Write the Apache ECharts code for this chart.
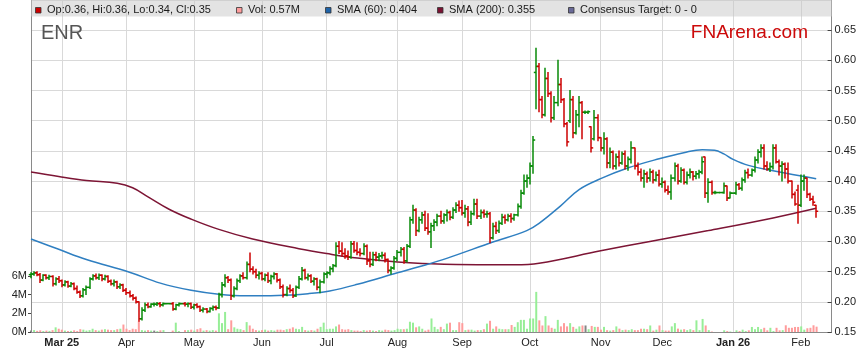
<!DOCTYPE html>
<html>
<head>
<meta charset="utf-8">
<script src="https://cdn.jsdelivr.net/npm/echarts@6.0.0/dist/echarts.min.js"></script>
<style>
html,body{margin:0;padding:0;background:#fff;}
#chart{width:859px;height:363px;}
</style>
</head>
<body>
<div id="chart"></div>
<script>
// ---------- DATA ----------
const ticker = 'ENR';
const brand = 'FNArena.com';

// trading days (weekdays) per month
const tradingMonths = [
  ['2025-02', [17,18,19,20,21,24,25,26,27,28]],
  ['2025-03', [3,4,5,6,7,10,11,12,13,14,17,18,19,20,21,24,25,26,27,28,31]],
  ['2025-04', [1,2,3,4,7,8,9,10,11,14,15,16,17,18,21,22,23,24,25,28,29,30]],
  ['2025-05', [1,2,5,6,7,8,9,12,13,14,15,16,19,20,21,22,23,26,27,28,29,30]],
  ['2025-06', [2,3,4,5,6,9,10,11,12,13,16,17,18,19,20,23,24,25,26,27,30]],
  ['2025-07', [1,2,3,4,7,8,9,10,11,14,15,16,17,18,21,22,23,24,25,28,29,30,31]],
  ['2025-08', [1,4,5,6,7,8,11,12,13,14,15,18,19,20,21,22,25,26,27,28,29]],
  ['2025-09', [1,2,3,4,5,8,9,10,11,12,15,16,17,18,19,22,23,24,25,26,29,30]],
  ['2025-10', [1,2,3,6,7,8,9,10,13,14,15,16,17,20,21,22,23,24,27,28,29,30,31]],
  ['2025-11', [3,4,5,6,7,10,11,12,13,14,17,18,19,20,21,24,25,26,27,28]],
  ['2025-12', [1,2,3,4,5,8,9,10,11,12,15,16,17,18,19,22,23,24,25,26,29,30,31]],
  ['2026-01', [1,2,5,6,7,8,9,12,13,14,15,16,19,20,21,22,23,26,27,28,29,30]],
  ['2026-02', [2,3,4,5,6,9]]
];
const emptySlotsAfter = 5;

// month tick labels
const tickMonths = ['2025-03','2025-04','2025-05','2025-06','2025-07','2025-08','2025-09','2025-10','2025-11','2025-12','2026-01','2026-02'];
const tickLabels = ['Mar 25','Apr','May','Jun','Jul','Aug','Sep','Oct','Nov','Dec','Jan 26','Feb'];

// axis ranges
const priceMin = 0.15, priceMax = 0.70, priceStep = 0.05;
const volMin = 0, volMax = 6, volStep = 2;

const open = [
.245,.246,.248,.245,.236,.244,.240,.242,.230,.238,
.235,.228,.233,.226,.230,.222,.216,.210,.220,.224,
.238,.243,.240,.244,.238,.242,.234,.230,.233,.225,
.228,.219,.215,.210,.206,.200,.172,.186,.195,.192,
.196,.196,.197,.195,.197,.197,.197,.188,.195,.197,
.197,.196,.197,.191,.195,.192,.186,.188,.184,.189,
.191,.190,.212,.228,.240,.236,.210,.222,.235,.243,
.240,.262,.254,.250,.244,.247,.238,.244,.235,.242,
.246,.236,.225,.212,.222,.219,.210,.224,.238,.252,
.240,.243,.234,.238,.224,.233,.246,.248,.255,.260,
.292,.284,.280,.276,.274,.296,.285,.282,.280,.292,
.268,.262,.278,.274,.276,.277,.270,.252,.256,.272,
.282,.287,.268,.292,.336,.352,.318,.336,.344,.322,
.316,.326,.332,.342,.334,.344,.348,.340,.352,.360,
.356,.347,.354,.332,.346,.362,.342,.348,.345,.346,
.306,.325,.318,.330,.340,.336,.342,.338,.344,.358,
.380,.400,.405,.425,.580,.590,.535,.510,.570,.545,
.505,.530,.560,.535,.495,.500,.535,.480,.510,.530,
.514,.514,.490,.470,.505,.472,.455,.470,.430,.448,
.425,.440,.430,.445,.425,.436,.455,.425,.415,.405,
.412,.405,.415,.402,.410,.395,.398,.385,.382,.405,
.425,.400,.418,.398,.410,.415,.408,.412,.415,.440,
.380,.398,.381,.381,.381,.381,.392,.372,.380,.380,
.394,.388,.402,.414,.410,.418,.435,.448,.455,.425,
.420,.424,.455,.432,.425,.428,.420,.400,.378,.385,
.360,.400,.405,.378,.370,.360
];
const high = [
.248,.250,.250,.247,.245,.245,.244,.243,.240,.242,
.236,.235,.234,.232,.231,.226,.218,.222,.226,.240,
.245,.246,.246,.245,.244,.243,.236,.236,.234,.230,
.229,.222,.218,.212,.208,.200,.190,.198,.198,.197,
.198,.199,.199,.198,.197,.197,.199,.196,.198,.197,
.199,.198,.198,.196,.197,.193,.190,.189,.190,.193,
.193,.214,.232,.245,.242,.238,.225,.238,.245,.248,
.266,.281,.258,.254,.250,.249,.246,.248,.244,.248,
.247,.238,.228,.225,.228,.222,.226,.242,.257,.254,
.246,.245,.240,.239,.236,.248,.250,.258,.262,.298,
.300,.298,.288,.284,.300,.300,.298,.288,.296,.294,
.282,.282,.282,.280,.282,.281,.271,.258,.275,.285,
.290,.290,.295,.340,.360,.354,.340,.348,.350,.346,
.330,.336,.345,.350,.346,.352,.350,.356,.364,.367,
.368,.360,.358,.350,.370,.370,.352,.352,.350,.348,
.330,.332,.334,.345,.344,.345,.346,.345,.362,.385,
.410,.410,.430,.474,.620,.595,.540,.587,.580,.548,
.540,.600,.570,.537,.497,.550,.540,.517,.540,.532,
.516,.516,.490,.517,.510,.472,.480,.472,.455,.450,
.445,.450,.448,.450,.440,.465,.455,.430,.420,.418,
.415,.420,.418,.415,.418,.405,.400,.392,.410,.430,
.428,.422,.420,.415,.420,.416,.416,.418,.440,.440,
.404,.400,.383,.381,.381,.397,.392,.382,.380,.398,
.396,.405,.418,.420,.420,.440,.452,.460,.460,.432,
.430,.460,.460,.435,.432,.430,.430,.400,.382,.393,
.410,.410,.405,.380,.375,.360
];
const low = [
.240,.244,.243,.232,.235,.238,.237,.226,.228,.232,
.225,.226,.224,.225,.220,.214,.207,.208,.212,.222,
.236,.238,.237,.235,.236,.232,.228,.226,.222,.222,
.217,.212,.208,.203,.198,.168,.170,.184,.190,.191,
.193,.194,.192,.193,.197,.197,.186,.187,.193,.197,
.193,.192,.189,.188,.190,.184,.183,.182,.183,.186,
.187,.189,.208,.225,.232,.204,.208,.220,.232,.238,
.238,.250,.246,.240,.238,.236,.235,.232,.230,.238,
.233,.222,.208,.210,.216,.207,.209,.222,.236,.238,
.236,.232,.228,.220,.215,.231,.240,.245,.250,.258,
.280,.276,.272,.270,.272,.282,.278,.276,.278,.262,
.258,.260,.268,.268,.272,.266,.248,.246,.254,.268,
.276,.264,.266,.290,.330,.310,.316,.330,.318,.312,
.290,.318,.326,.330,.330,.334,.336,.338,.348,.350,
.344,.340,.326,.328,.344,.338,.338,.340,.340,.298,
.304,.313,.315,.328,.330,.334,.332,.335,.342,.355,
.378,.390,.395,.413,.520,.515,.505,.508,.540,.498,
.502,.525,.530,.490,.458,.497,.472,.478,.490,.470,
.512,.512,.448,.468,.467,.450,.445,.422,.422,.420,
.420,.425,.428,.420,.418,.430,.420,.410,.400,.390,
.398,.400,.397,.400,.392,.390,.382,.378,.370,.400,
.395,.398,.395,.395,.405,.402,.404,.405,.412,.373,
.365,.378,.379,.381,.381,.380,.368,.372,.380,.378,
.386,.385,.398,.405,.408,.415,.430,.440,.420,.418,
.416,.420,.430,.410,.400,.405,.397,.372,.360,.330,
.358,.385,.373,.368,.360,.340
];
const close = [
.246,.248,.245,.236,.244,.240,.242,.230,.238,.235,
.228,.233,.226,.230,.222,.216,.210,.220,.224,.238,
.243,.240,.244,.238,.242,.234,.230,.233,.225,.228,
.219,.215,.210,.206,.200,.172,.186,.195,.192,.196,
.196,.197,.195,.197,.197,.197,.188,.195,.197,.197,
.196,.197,.191,.195,.192,.186,.188,.184,.189,.191,
.190,.212,.228,.240,.236,.210,.222,.235,.243,.240,
.262,.254,.250,.244,.247,.238,.244,.235,.242,.246,
.236,.225,.212,.222,.219,.210,.224,.238,.252,.240,
.243,.234,.238,.224,.233,.246,.248,.255,.260,.292,
.284,.280,.276,.274,.296,.285,.282,.280,.292,.268,
.262,.278,.274,.276,.277,.270,.252,.256,.272,.282,
.287,.268,.292,.336,.352,.318,.336,.344,.322,.316,
.326,.332,.342,.334,.344,.348,.340,.352,.360,.356,
.347,.354,.332,.346,.362,.342,.348,.345,.346,.306,
.325,.318,.330,.340,.336,.342,.338,.344,.358,.380,
.400,.405,.425,.468,.590,.535,.510,.570,.545,.505,
.530,.560,.535,.495,.465,.535,.480,.510,.530,.514,
.514,.515,.455,.505,.472,.455,.470,.430,.448,.425,
.440,.430,.445,.425,.436,.455,.425,.415,.405,.412,
.405,.415,.402,.410,.395,.398,.385,.382,.405,.425,
.400,.418,.398,.410,.415,.408,.412,.415,.432,.380,
.398,.381,.381,.381,.381,.392,.372,.380,.380,.394,
.388,.402,.414,.410,.418,.435,.448,.455,.425,.420,
.424,.455,.432,.425,.428,.420,.400,.378,.362,.360,
.400,.405,.378,.370,.365,.350
];
// volume, millions
const volume = [
.15,.2,.12,.18,.1,.15,.12,.2,.5,.35,
.25,.15,.1,.12,.18,.1,.3,.25,.15,.2,
.35,.2,.15,.25,.3,.25,.2,.2,.3,.35,
.8,.35,.2,.35,.3,1.15,.2,.15,.2,.15,
.15,.1,.18,.2,0,0,.15,1.0,.1,0,
.2,.2,.25,.15,.3,.4,.15,.2,.15,.2,
.15,2.0,.95,2.15,.3,1.25,.5,.35,.3,.2,
1.06,.7,.35,.2,.15,.2,.25,.15,.2,.15,
.25,.25,.2,.3,.35,.5,.35,.3,.55,.2,
.15,.2,.15,.35,.55,1.0,.3,.35,.35,.6,
.8,.3,.25,.3,.2,.15,.15,.1,.2,.15,
.2,.15,.1,.2,.15,.25,.2,.15,.2,.35,
.3,.3,.35,1.1,1.0,.5,.6,.35,.15,.25,
1.45,.55,.3,.55,.3,.9,1.0,.2,.2,1.05,
.95,.2,.25,.25,.15,.2,.2,.3,.9,1.2,
.35,.6,.35,.3,.3,.3,.75,.55,1.05,1.3,
1.3,.35,1.45,1.45,4.3,1.25,.7,1.7,.7,.45,
.35,1.3,.6,.95,.6,.95,.55,.35,.6,.7,
.7,.3,.65,.55,.55,.25,.55,.2,.15,.2,
.6,.36,.2,.25,.2,.3,.2,.2,.35,.35,
.3,.7,.15,.25,.7,.2,.15,.15,.6,.95,
.36,.25,.3,.2,.3,.2,1.25,.2,1.4,.7,
.2,.05,0,0,0,.18,.1,.05,0,.18,
.1,.25,.1,.18,.54,.3,.54,.3,.45,.18,
.45,.1,.45,.18,.2,.72,.45,.45,.54,.54,
.6,.25,.4,.45,.72,.57
];
// moving averages: [bar index, value]
const sma60 = [[0,.304],[9,.287],[18,.270],[32,.249],[42,.231],[52,.219],[61,.2125],[70,.210],[80,.2105],[90,.2135],[97,.218],[106,.229],[119,.248],[126,.258],[135,.272],[150,.299],[161,.318],[165,.330],[172,.359],[178,.386],[185,.404],[194,.422],[204,.437],[212,.447],[218,.452],[222,.451],[225,.445],[228,.436],[233,.426],[241,.417],[255,.404]];
const sma200 = [[0,.415],[9,.4075],[18,.401],[28,.3965],[33,.389],[38,.374],[45,.353],[52,.337],[61,.320],[72,.304],[87,.288],[96,.280],[106,.2725],[119,.266],[130,.263],[145,.2615],[157,.2615],[165,.264],[185,.2845],[201,.300],[220,.318],[241,.339],[255,.355]];
const consensusText = 'Consensus Target: 0 - 0';

// ---------- BUILD ----------
const FONT = '"Liberation Sans", Arial, Helvetica, sans-serif';
const dates = [];
tradingMonths.forEach(([m, days]) => days.forEach(d => dates.push(m + '-' + String(d).padStart(2,'0'))));
const cats = dates.concat(Array(emptySlotsAfter).fill(''));
const n = close.length;

function isMonthStart(idx) {
  if (idx === 0) return false;
  const d = cats[idx], p = cats[idx - 1];
  if (!d || !p) return false;
  return d.slice(0,7) !== p.slice(0,7) && tickMonths.indexOf(d.slice(0,7)) >= 0;
}
function labelFor(value) {
  const k = tickMonths.indexOf(String(value).slice(0,7));
  if (k < 0) return '';
  const t = tickLabels[k];
  return t.indexOf(' ') >= 0 ? '{b|' + t + '}' : t;
}

const UP = '#078a07', DOWN = '#cc0000';
const ohlcData = [];
const volData = [];
for (let i = 0; i < n; i++) {
  let dir;
  if (close[i] > open[i]) dir = 1;
  else if (close[i] < open[i]) dir = -1;
  else dir = (i > 0 && close[i] < close[i-1]) ? -1 : 1;
  ohlcData.push([i, open[i], close[i], low[i], high[i], dir]);
  const prev = i > 0 ? close[i-1] : close[i];
  const vc = close[i] > prev ? '#97ee97' : (close[i] < prev ? '#ff9c9c' : '#858585');
  volData.push({ value: [i, volume[i]], itemStyle: { color: vc } });
}

function renderOHLC(params, api) {
  const i = api.value(0);
  const o = api.coord([i, api.value(1)]);
  const c = api.coord([i, api.value(2)]);
  const l = api.coord([i, api.value(3)]);
  const h = api.coord([i, api.value(4)]);
  const color = api.value(5) > 0 ? UP : DOWN;
  const x = Math.round(o[0]);
  const st = { stroke: color, lineWidth: 1.5 };
  return {
    type: 'group',
    children: [
      { type: 'line', shape: { x1: x, y1: h[1] - 0.5, x2: x, y2: l[1] + 0.5 }, style: st },
      { type: 'line', shape: { x1: x - 2.2, y1: o[1], x2: x, y2: o[1] }, style: st },
      { type: 'line', shape: { x1: x, y1: c[1], x2: x + 2.2, y2: c[1] }, style: st }
    ]
  };
}

const lastSma60 = sma60[sma60.length-1][1];
const lastSma200 = sma200[sma200.length-1][1];
const f2 = v => v.toFixed(2);
const legendItems = [
  { color: '#cc0000', text: 'Op:' + f2(open[n-1]) + ', Hi:' + f2(high[n-1]) + ', Lo:' + f2(low[n-1]) + ', Cl:' + f2(close[n-1]), x: 35 },
  { color: '#ff9c9c', text: 'Vol: ' + volume[n-1] + 'M', x: 236 },
  { color: '#1f63a8', text: 'SMA (60): ' + lastSma60.toFixed(3), x: 325 },
  { color: '#7a1232', text: 'SMA (200): ' + lastSma200.toFixed(3), x: 437 },
  { color: '#6a6a98', text: consensusText, x: 568 }
];
const graphics = [
  { type: 'rect', left: 31, top: 0, shape: { width: 801, height: 16.5 }, style: { fill: 'rgba(200,200,200,0.5)' }, z: 50 }
];
legendItems.forEach(it => {
  graphics.push({ type: 'rect', shape: { x: it.x + 0.5, y: 7.5, width: 5.5, height: 5.5 }, style: { fill: it.color, stroke: '#333', lineWidth: 0.8 }, z: 51 });
  graphics.push({ type: 'text', x: it.x + 12, y: 10, style: { text: it.text, font: '11px ' + FONT, fill: '#1a1a1a', verticalAlign: 'middle', align: 'left' }, z: 51 });
});
graphics.push({ type: 'text', x: 41, y: 33, style: { text: ticker, font: '20px ' + FONT, fill: '#555555', verticalAlign: 'middle' }, z: 40 });
graphics.push({ type: 'text', x: 808, y: 33, style: { text: brand, font: '19px ' + FONT, fill: '#cc0a0a', verticalAlign: 'middle', align: 'right' }, z: 40 });

const option = {
  animation: false,
  textStyle: { fontFamily: FONT },
  grid: [
    { left: 31, right: 27, top: 0, bottom: 31 },
    { left: 31, right: 27, top: 276, bottom: 31 }
  ],
  xAxis: [
    {
      type: 'category', gridIndex: 0, data: cats, boundaryGap: false,
      axisLine: { show: true, lineStyle: { color: '#8a8a8a' } },
      axisTick: { show: false },
      axisLabel: {
        interval: isMonthStart, formatter: labelFor, color: '#222', fontSize: 11, margin: 5,
        fontFamily: FONT,
        rich: { b: { fontWeight: 'bold', fontSize: 11, color: '#222', fontFamily: FONT } }
      },
      splitLine: { show: true, interval: isMonthStart, lineStyle: { color: '#d9d9d9', width: 1 } }
    },
    { type: 'category', gridIndex: 1, data: cats, boundaryGap: false, show: false }
  ],
  yAxis: [
    {
      type: 'value', gridIndex: 0, position: 'right', min: priceMin, max: priceMax, interval: priceStep,
      axisLine: { show: true, lineStyle: { color: '#8a8a8a' } },
      axisTick: { show: true, inside: true, length: 4, lineStyle: { color: '#444' } },
      axisLabel: { formatter: v => v.toFixed(2), showMaxLabel: false, color: '#222', fontSize: 11, margin: 3, fontFamily: FONT },
      splitLine: { show: true, lineStyle: { color: '#d9d9d9', width: 1 } }
    },
    {
      type: 'value', gridIndex: 1, position: 'left', min: volMin, max: volMax, interval: volStep,
      axisLine: { show: false },
      axisTick: { show: true, length: 3, lineStyle: { color: '#444' } },
      axisLabel: { formatter: v => v + 'M', color: '#222', fontSize: 11, margin: 4, fontFamily: FONT },
      splitLine: { show: false }
    },
    {
      type: 'value', gridIndex: 0, position: 'left', min: priceMin, max: priceMax,
      axisLine: { show: true, lineStyle: { color: '#8a8a8a' } },
      axisTick: { show: false }, axisLabel: { show: false }, splitLine: { show: false }
    }
  ],
  series: [
    {
      type: 'bar', name: 'Vol', xAxisIndex: 1, yAxisIndex: 1, data: volData, barWidth: 2, z: 2
    },
    {
      type: 'line', name: 'SMA (200)', xAxisIndex: 0, yAxisIndex: 0, data: sma200, showSymbol: false,
      smooth: 0.4, lineStyle: { color: '#7d1535', width: 1.5 }, z: 3
    },
    {
      type: 'line', name: 'SMA (60)', xAxisIndex: 0, yAxisIndex: 0, data: sma60, showSymbol: false,
      smooth: 0.4, lineStyle: { color: '#2f7fc1', width: 1.5 }, z: 3
    },
    {
      type: 'custom', name: 'ENR', xAxisIndex: 0, yAxisIndex: 0, data: ohlcData,
      renderItem: renderOHLC, encode: { x: 0, y: [1, 2, 3, 4] }, z: 4
    }
  ],
  graphic: graphics
};

const chart = echarts.init(document.getElementById('chart'), null, { renderer: 'canvas' });
chart.setOption(option);
</script>
</body>
</html>
